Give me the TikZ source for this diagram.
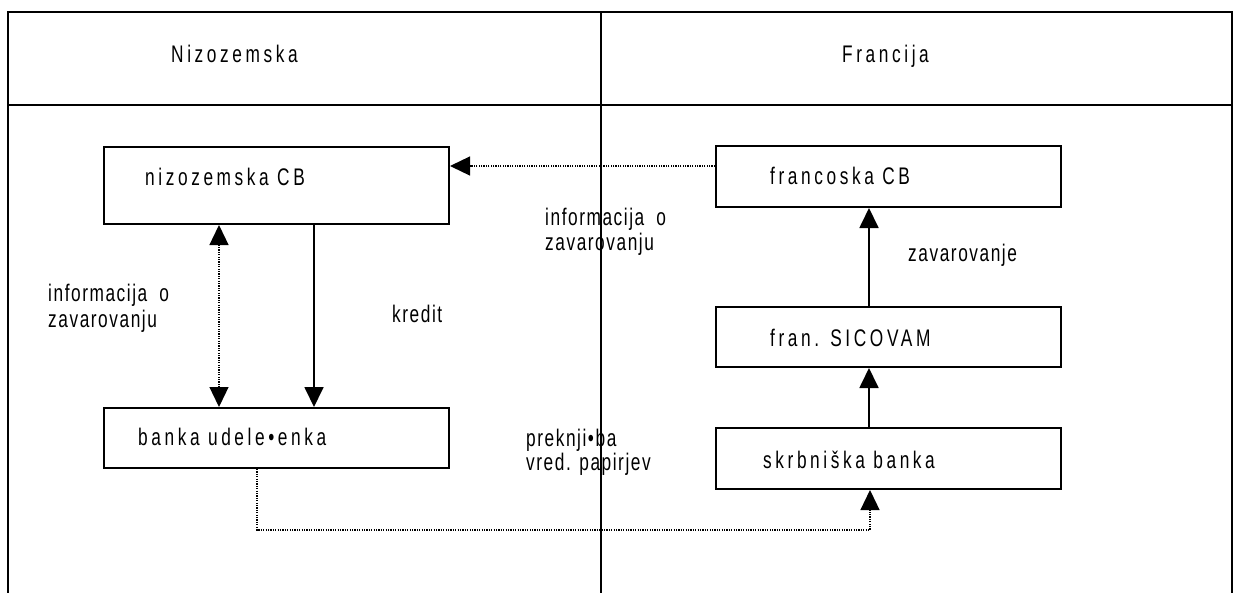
\documentclass[tikz,border=0pt]{standalone}
\usepackage{fontspec}
\usetikzlibrary{arrows.meta}
\newfontfamily\boxfont[FakeStretch=0.72,LetterSpace=15]{Liberation Sans}
\newfontfamily\notefont[FakeStretch=0.72,LetterSpace=6.5]{Liberation Sans}
\begin{document}
\begin{tikzpicture}[x=1pt,y=-1pt,
  frame/.style={line width=1.8pt},
  box/.style={draw, line width=2pt, minimum width=345pt, inner sep=0pt},
  boxlabel/.style={anchor=base west, inner sep=0pt, font=\boxfont\fontsize{24}{28}\selectfont},
  notelabel/.style={anchor=base west, inner sep=0pt, font=\notefont\fontsize{24}{28}\selectfont},
  flow/.style={line width=1.8pt, -{Triangle[length=20pt,width=19pt]}},
  info/.style={line width=1.3pt, dash pattern=on 1.2pt off 1.2pt}
]
\useasboundingbox (0,0) rectangle (1234,592);
% frame
\coordinate (tl) at (8.3,12.3);
\coordinate (tr) at (1232,12.3);
\coordinate (bl) at (8.3,593);
\coordinate (br) at (1232,593);
\coordinate (hl) at (8.3,105);
\coordinate (hr) at (1232,105);
\coordinate (dt) at (601.3,13);
\coordinate (db) at (601.3,593);
\draw[frame] (bl) -- (tl) -- (tr) -- (br);
\draw[frame] (hl) -- (hr);
\draw[frame] (dt) -- (db);
% headers
\node[boxlabel] (hN) at (171,62) {Nizozemska};
\node[boxlabel] (hF) at (842,62) {Francija};
% boxes
\node[box, minimum height=77pt] (nCB) at (276.5,185.5) {};
\node[box, minimum height=60pt] (bank) at (276.5,438) {};
\node[box, minimum height=61pt] (fCB) at (888.5,176.5) {};
\node[box, minimum height=60pt] (sic) at (888.5,337) {};
\node[box, minimum height=61pt] (skrb) at (888.5,458.5) {};
% box labels
\node[boxlabel] (tnCB) at (145,185) {nizozemska CB};
\node[boxlabel] (tbank) at (138,445) {banka udele•enka};
\node[boxlabel] (tfCB) at (770,184) {francoska CB};
\node[boxlabel] (tsic) at (770,346.5) {fran. SICOVAM};
\node[boxlabel] (tskrb) at (763,468) {skrbniška banka};
% annotations
\node[notelabel] (iL1) at (48,301.5) {informacija\hspace{12pt}o};
\node[notelabel] (iL2) at (48,327) {zavarovanju};
\node[notelabel] (kred) at (392,322) {kredit};
\node[notelabel] (iM1) at (545,225) {informacija\hspace{12pt}o};
\node[notelabel] (iM2) at (545,250.5) {zavarovanju};
\node[notelabel] (zav) at (908,261.5) {zavarovanje};
\node[notelabel] (pr1) at (526,446.5) {preknji•ba};
\node[notelabel] (pr2) at (526,470) {vred. papirjev};
% connectors
\draw[info, -{Triangle[length=20pt,width=19pt]}] ([yshift=10.5pt]fCB.west) -- ([yshift=19.5pt]nCB.east);
\draw[info, {Triangle[length=20pt,width=19pt]}-{Triangle[length=20pt,width=19pt]}] ([xshift=-57.5pt]nCB.south) -- ([xshift=-57.5pt]bank.north);
\draw[flow] ([xshift=37.5pt]nCB.south) -- ([xshift=37.5pt]bank.north);
\draw[flow] ([xshift=-19.5pt]sic.north) -- ([xshift=-19.5pt]fCB.south);
\draw[flow] ([xshift=-19.5pt]skrb.north) -- ([xshift=-19.5pt]sic.south);
\coordinate (bend) at ([xshift=-18.5pt,yshift=-40pt]skrb.south);
\draw[info, -{Triangle[length=20pt,width=19pt]}] ([xshift=-19.5pt]bank.south) |- (bend) -- ([xshift=-18.5pt]skrb.south);
\end{tikzpicture}
\end{document}
